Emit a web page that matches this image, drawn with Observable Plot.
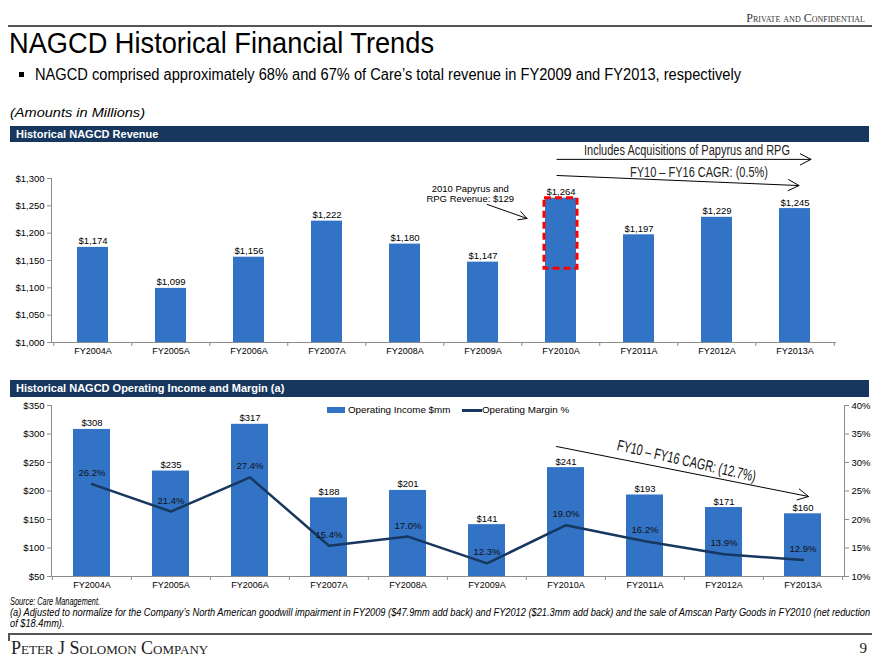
<!DOCTYPE html>
<html><head><meta charset="utf-8">
<script src="https://cdn.jsdelivr.net/npm/d3@7"></script>
<script src="https://cdn.jsdelivr.net/npm/@observablehq/plot@0.6"></script>
<style>
body{margin:0;background:#fff;}
#page{position:relative;width:880px;height:660px;overflow:hidden;font-family:Arial,"Liberation Sans",sans-serif;color:#000;background:#fff;}
.abs{position:absolute;white-space:nowrap;}
.narrow{font-family:Arial,"Liberation Sans",sans-serif;transform-origin:0 0;}
.serif{font-family:"Liberation Serif","Times New Roman",serif;font-variant:small-caps;}
.hdr{position:absolute;left:10px;width:859px;background:#17375E;color:#fff;font-weight:bold;font-size:11px;padding-left:6px;box-sizing:border-box;z-index:2;}
.chart{position:absolute;left:0;z-index:1;}
</style></head>
<body><div id="page">
<div class="abs serif" style="right:15px;top:11px;font-size:12px;color:#333;">Private and Confidential</div>
<div class="abs" style="left:8px;top:25px;width:864px;height:2px;background:#555;"></div>
<div class="abs narrow" data-w="425" style="left:9px;top:26px;font-size:30px;line-height:34px;">NAGCD Historical Financial Trends</div>
<div class="abs" style="left:19px;top:72px;width:5px;height:5px;background:#000;"></div>
<div class="abs narrow" data-w="706" style="left:35px;top:65px;font-size:16px;line-height:20px;">NAGCD comprised approximately 68% and 67% of Care’s total revenue in FY2009 and FY2013, respectively</div>
<div class="abs narrow" data-w="135" style="left:10px;top:105px;font-size:13px;font-style:italic;line-height:16px;">(Amounts in Millions)</div>
<div class="hdr" style="top:126px;height:16px;line-height:16px;">Historical NAGCD Revenue</div>
<div id="c1" class="chart" style="top:140px;"></div>
<div class="hdr" style="top:380px;height:17px;line-height:17px;">Historical NAGCD Operating Income and Margin (a)</div>
<div id="c2" class="chart" style="top:398px;"></div>
<div class="abs" style="left:327px;top:407px;width:18px;height:6px;background:#3273C5;z-index:3;"></div>
<div class="abs" style="left:348px;top:404px;font-size:9.8px;line-height:12px;z-index:3;">Operating Income $mm</div>
<div class="abs" style="left:462px;top:409px;width:20px;height:2.5px;background:#17375E;z-index:3;"></div>
<div class="abs" style="left:482px;top:404px;font-size:9.8px;line-height:12px;z-index:3;">Operating Margin %</div>
<div class="abs narrow" data-w="90" style="left:10px;top:596px;font-size:10px;font-style:italic;line-height:12px;">Source: Care Management.</div>
<div class="abs narrow" data-w="860" style="left:10px;top:607px;font-size:10.5px;font-style:italic;line-height:11px;">(a) Adjusted to normalize for the Company’s North American goodwill impairment in FY2009 ($47.9mm add back) and FY2012 ($21.3mm add back) and the sale of Amscan Party Goods in FY2010 (net reduction<br>of $18.4mm).</div>
<div class="abs" style="left:8px;top:633px;width:864px;height:2px;background:#555;"></div>
<div class="abs" style="left:8px;top:633px;width:1.5px;height:8px;background:#555;"></div>
<div class="abs serif" style="left:11px;top:637px;font-size:18px;line-height:22px;color:#222;">Peter J Solomon Company</div>
<div class="abs" style="right:13px;top:639px;font-size:15px;line-height:18px;font-family:'Liberation Serif',serif;color:#222;">9</div>
</div>
<script>
// ---------- data ----------
const years = ["FY2004A","FY2005A","FY2006A","FY2007A","FY2008A","FY2009A","FY2010A","FY2011A","FY2012A","FY2013A"];
const revenue = [1174,1099,1156,1222,1180,1147,1264,1197,1229,1245];
const acquiredRevenue2010 = 129;
const opIncome = [308,235,317,188,201,141,241,193,171,160];
const opMargin = [26.2,21.4,27.4,15.4,17.0,12.3,19.0,16.2,13.9,12.9];
const revTicks = [1000,1050,1100,1150,1200,1250,1300];
const incomeTicks = [50,100,150,200,250,300,350];
const marginTicks = [10,15,20,25,30,35,40];

const BLUE = "#3273C5", NAVY = "#17375E", AXIS = "#8c8c8c";
const fmtD = d3.format(",");
const W = 880;

// condensed look for narrow-font texts: fit to measured widths
document.querySelectorAll("[data-w]").forEach(el => {
  const w = el.getBoundingClientRect().width;
  el.style.transform = `scaleX(${(+el.dataset.w / w).toFixed(4)})`;
});
function condense(svg, widths) {
  d3.select(svg).selectAll("text").each(function () {
    const w = widths[this.textContent];
    if (w) { this.setAttribute("textLength", w); this.setAttribute("lengthAdjust", "spacingAndGlyphs"); }
  });
}

// ---------- chart 1 ----------
const M1 = {top:38, right:44, bottom:23, left:51}, H1 = 225;
const step1 = (W - M1.left - M1.right) / years.length;
const k1 = (H1 - M1.top - M1.bottom) / (revTicks[revTicks.length-1] - revTicks[0]);
const revData = years.map((y,i) => ({year:y, value:revenue[i]}));
const last = years[years.length-1];
const note1 = "Includes Acquisitions of Papyrus and RPG";
const cagr1 = "FY10 – FY16 CAGR: (0.5%)";

const chart1 = Plot.plot({
  width: W, height: H1,
  marginTop: M1.top, marginRight: M1.right, marginBottom: M1.bottom, marginLeft: M1.left,
  x: {domain: years, paddingInner: 0.6, paddingOuter: 0.3, axis: null},
  y: {domain: [revTicks[0], revTicks[revTicks.length-1]], axis: null},
  style: {fontFamily: "Arial,'Liberation Sans',sans-serif", fontSize: "9px", color: "#000", background: "transparent", overflow: "visible"},
  marks: [
    Plot.barY(revData, {x: "year", y1: revTicks[0], y2: "value", fill: BLUE}),
    Plot.barY([{year: "FY2010A", lo: revenue[6] - acquiredRevenue2010, hi: revenue[6]}],
      {x: "year", y1: "lo", y2: "hi", fill: "none", stroke: "#FF0000", strokeWidth: 3, strokeDasharray: "7,4", insetLeft: -1, insetRight: -1}),
    Plot.text(revData, {x: "year", y: "value", text: d => "$" + fmtD(d.value), lineAnchor: "bottom", dy: -3, fontSize: 9.5}),
    Plot.frame({anchor: "left", stroke: AXIS}),
    Plot.ruleY([revTicks[0]], {stroke: AXIS}),
    Plot.axisY(revTicks, {tickFormat: d => "$" + fmtD(d), tickSize: 4, tickPadding: 3, stroke: AXIS, fill: "#000", fontSize: 9.5}),
    Plot.ruleX(years, {x: d => d, y1: revTicks[0], y2: revTicks[0] - 4 / k1, dx: -step1 / 2, stroke: AXIS}),
    Plot.ruleX([last], {x: d => d, y1: revTicks[0], y2: revTicks[0] - 4 / k1, dx: step1 / 2, stroke: AXIS}),
    Plot.axisX({tickSize: 0, tickPadding: 5, fontSize: 9, label: null}),
    // annotations
    Plot.text([{x: "FY2012A", y: 1351, t: note1}], {x: "x", y: "y", text: "t", dx: -30, fontSize: 14, fill: "#222"}),
    Plot.arrow([{x1: "FY2010A", x2: last, y1: 1335, y2: 1335}], {x1: "x1", x2: "x2", y1: "y1", y2: "y2", dx: -4, insetEnd: -20, stroke: "#000", strokeWidth: 1, headLength: 18, headAngle: 55}),
    Plot.text([{x: "FY2012A", y: 1311, t: cagr1}], {x: "x", y: "y", text: "t", dx: -18, fontSize: 14, fill: "#222"}),
    Plot.arrow([{x1: "FY2010A", x2: last, y1: 1305.5, y2: 1287.7}], {x1: "x1", x2: "x2", y1: "y1", y2: "y2", dx: -4, insetEnd: -8, stroke: "#000", strokeWidth: 1, headLength: 18, headAngle: 55}),
    Plot.text([{x: "FY2009A", y: 1272.6, t: "2010 Papyrus and\nRPG Revenue: $" + acquiredRevenue2010}], {x: "x", y: "y", text: "t", dx: -12.75, fontSize: 9.5, lineHeight: 1.15}),
    Plot.arrow([{x1: "FY2009A", x2: "FY2010A", y1: 1255.2, y2: 1205.1}], {x1: "x1", x2: "x2", y1: "y1", y2: "y2", insetStart: 4.5, insetEnd: 36, stroke: "#000", strokeWidth: 1, headLength: 14, headAngle: 55})
  ]
});
condense(chart1, {[note1]: 206, [cagr1]: 138});
document.getElementById("c1").appendChild(chart1);

// ---------- chart 2 ----------
const M2 = {top:7, right:36, bottom:22, left:51}, H2 = 200;
const step2 = (W - M2.left - M2.right) / years.length;
const k2 = (H2 - M2.top - M2.bottom) / (incomeTicks[incomeTicks.length-1] - incomeTicks[0]);
// map margin % onto the income axis (10%..40% <-> $50..$350)
const m2y = m => incomeTicks[0] + (m - marginTicks[0]) * (incomeTicks[incomeTicks.length-1] - incomeTicks[0]) / (marginTicks[marginTicks.length-1] - marginTicks[0]);
const incData = years.map((y,i) => ({year:y, value:opIncome[i], margin:opMargin[i]}));
const cagr2 = "FY10 – FY16 CAGR: (12.7%)";

const chart2 = Plot.plot({
  width: W, height: H2,
  marginTop: M2.top, marginRight: M2.right, marginBottom: M2.bottom, marginLeft: M2.left,
  x: {domain: years, paddingInner: 0.53, paddingOuter: 0.265, axis: null},
  y: {domain: [incomeTicks[0], incomeTicks[incomeTicks.length-1]], axis: null},
  style: {fontFamily: "Arial,'Liberation Sans',sans-serif", fontSize: "9px", color: "#000", background: "transparent", overflow: "visible"},
  marks: [
    Plot.barY(incData, {x: "year", y1: incomeTicks[0], y2: "value", fill: BLUE}),
    Plot.text(incData, {x: "year", y: "value", text: d => "$" + d.value, lineAnchor: "bottom", dy: -3, fontSize: 9.5}),
    Plot.line(incData, {x: "year", y: d => m2y(d.margin), stroke: NAVY, strokeWidth: 2.5}),
    Plot.text(incData, {x: "year", y: d => m2y(d.margin), text: d => d.margin.toFixed(1) + "%", dy: -11, fontSize: 9.5, fill: "#111"}),
    Plot.frame({anchor: "left", stroke: AXIS}),
    Plot.frame({anchor: "right", stroke: AXIS}),
    Plot.ruleY([incomeTicks[0]], {stroke: AXIS}),
    Plot.axisY(incomeTicks, {tickFormat: d => "$" + d, tickSize: 4, tickPadding: 3, stroke: AXIS, fill: "#000", fontSize: 9.5}),
    Plot.axisY(incomeTicks, {anchor: "right", tickFormat: (d, i) => marginTicks[i] + "%", tickSize: 4, tickPadding: 3, stroke: AXIS, fill: "#000", fontSize: 9.5}),
    Plot.ruleX(years, {x: d => d, y1: incomeTicks[0], y2: incomeTicks[0] - 4 / k2, dx: -step2 / 2, stroke: AXIS}),
    Plot.ruleX([last], {x: d => d, y1: incomeTicks[0], y2: incomeTicks[0] - 4 / k2, dx: step2 / 2, stroke: AXIS}),
    Plot.axisX({tickSize: 0, tickPadding: 5, fontSize: 9, label: null}),
    Plot.text([{x: "FY2012A", y: 252.6, t: cagr2}], {x: "x", y: "y", text: "t", dx: -37.5, rotate: 13, fontSize: 15.5, fill: "#111"}),
    Plot.arrow([{x1: "FY2010A", x2: last, y1: 278.1, y2: 195.6}], {x1: "x1", x2: "x2", y1: "y1", y2: "y2", dx: -9.5, insetEnd: -15.4, stroke: "#000", strokeWidth: 1, headLength: 18, headAngle: 55})
  ]
});
condense(chart2, {[cagr2]: 142});
document.getElementById("c2").appendChild(chart2);
</script>
</body></html>
